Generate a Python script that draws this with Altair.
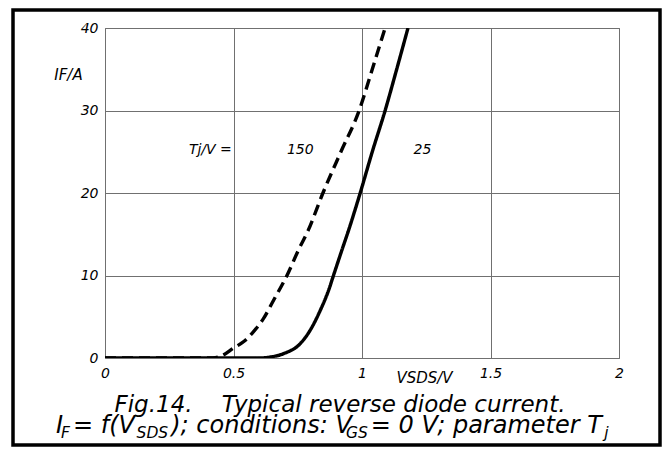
import altair as alt
import pandas as pd

# ---- data ----
v_25 = [0.0, 0.6, 0.643, 0.695, 0.76, 0.799, 0.838, 0.87, 0.889, 0.922, 0.948, 0.993, 1.04, 1.09, 1.135, 1.179]
i_25 = [0.0, 0.0, 0.12, 0.53, 1.75, 3.4, 5.8, 8.2, 10.0, 13.1, 15.5, 20.0, 25.0, 30.0, 35.0, 40.0]

v_150 = [0.0, 0.42, 0.45, 0.5, 0.54, 0.578, 0.617, 0.656, 0.708, 0.753, 0.791, 0.848, 0.918, 0.989, 1.04, 1.09]
i_150 = [0.0, 0.0, 0.2, 1.2, 2.0, 3.2, 4.8, 7.0, 10.0, 13.1, 15.5, 20.0, 25.0, 30.0, 35.0, 40.0]

x_ticks = [0, 0.5, 1, 1.5, 2]
y_ticks = [0, 10, 20, 30, 40]

ann_text = ["Tj/V =", "150", "25"]
ann_v = [0.41, 0.76, 1.235]
ann_i = [25.2, 25.2, 25.2]

FONT = "DejaVu Sans"

curves = pd.concat([
    pd.DataFrame({"v": v_25, "i": i_25, "Tj": "25"}),
    pd.DataFrame({"v": v_150, "i": i_150, "Tj": "150"}),
])
ann = pd.DataFrame({"text": ann_text, "v": ann_v, "i": ann_i})

x_enc = alt.X("v:Q", scale=alt.Scale(domain=[0, 2], nice=False),
              axis=alt.Axis(values=x_ticks, format="~g", title="VSDS/V",
                            titleX=319, titleY=19, titleAlign="center",
                            titleBaseline="middle", titleAnchor="start",
                            labelPadding=8, labelFlush=False))
y_enc = alt.Y("i:Q", scale=alt.Scale(domain=[0, 40], nice=False),
              axis=alt.Axis(values=y_ticks, title="IF/A", titleAngle=0,
                            titleX=-37, titleY=46, titleAlign="center",
                            titleBaseline="middle", titleAnchor="start",
                            labelPadding=7))

lines = alt.Chart(curves).mark_line(interpolate="monotone", strokeWidth=3.4,
                                    color="black", clip=True).encode(
    x=x_enc, y=y_enc,
    strokeDash=alt.StrokeDash("Tj:N", scale=alt.Scale(domain=["25", "150"],
                                                       range=[[1, 0], [11, 6]]),
                              legend=None),
    detail="Tj:N",
)

labels = alt.Chart(ann).mark_text(font=FONT, fontStyle="italic", fontSize=14,
                                  color="black", align="center",
                                  baseline="middle").encode(
    x="v:Q", y="i:Q", text="text:N")

OX, OY = 105, 28

frame = alt.Chart(pd.DataFrame({"a": [0]})).mark_rect(
    filled=False, stroke="black", strokeWidth=3.5).encode(
    x=alt.value(13 - OX), x2=alt.value(660 - OX),
    y=alt.value(10 - OY), y2=alt.value(445 - OY))

# DejaVu Sans advance widths (em) used to lay out the caption's second line
W = {"I": .295, " ": .318, "=": .838, "f": .352, "(": .39, ")": .39, "V": .684,
     ";": .337, ":": .337, "c": .55, "o": .612, "n": .634, "d": .635, "i": .278,
     "t": .392, "s": .521, "0": .636, "p": .635, "a": .613, "r": .411, "m": .974,
     "e": .615, "T": .611, "F": .575, "S": .635, "D": .77, "G": .775, "j": .278}

def width(t, fs):
    return sum(W.get(ch, .6) for ch in t) * fs

MAIN, SUB = 24, 15.5
cap1 = "Fig.14.\u00a0\u00a0\u00a0\u00a0Typical reverse diode current."
# (text, is_subscript, spacing tweak after it for the italic overhang)
segs = [("I", False, -2), ("F", True, 3), (" = f(V", False, -6), ("SDS", True, 3),
        ("); conditions: V", False, -6), ("GS", True, 3),
        (" = 0 V; parameter T", False, -6), ("j", True, 0)]

cap_layers = [
    alt.Chart(pd.DataFrame({"a": [0]})).mark_text(
        text=cap1, font=FONT, fontStyle="italic", fontSize=23, color="black",
        align="center", baseline="alphabetic").encode(
        x=alt.value(340 - OX), y=alt.value(411.5 - OY))
]
cursor = 56.0
for t, sub, tweak in segs:
    fs = SUB if sub else MAIN
    by = 438 if sub else 433
    txt = t.replace(" ", "\u00a0")
    cap_layers.append(
        alt.Chart(pd.DataFrame({"a": [0]})).mark_text(
            text=txt, font=FONT, fontStyle="italic", fontSize=fs, color="black",
            align="left", baseline="alphabetic").encode(
            x=alt.value(cursor - OX), y=alt.value(by - OY))
    )
    cursor += width(t, fs) + tweak

chart = alt.layer(lines, labels, frame, *cap_layers).properties(
    width=514, height=330,
    autosize=alt.AutoSizeParams(type="none"),
    padding={"left": 97, "top": 20, "right": 43, "bottom": 89},
    background="white",
).configure_view(stroke="#707070", strokeWidth=1).configure_axis(
    grid=True, gridColor="#707070", gridWidth=1, gridOpacity=1,
    domain=False, ticks=False,
    labelFont=FONT, labelFontStyle="italic", labelFontSize=14, labelColor="black",
    titleFont=FONT, titleFontStyle="italic", titleFontSize=15,
    titleFontWeight="normal", titleColor="black",
).configure_axisY(labelBaseline="middle").configure_axisX(labelBaseline="top")

chart.save("out.html", embed_options={"renderer": "svg", "actions": False})
